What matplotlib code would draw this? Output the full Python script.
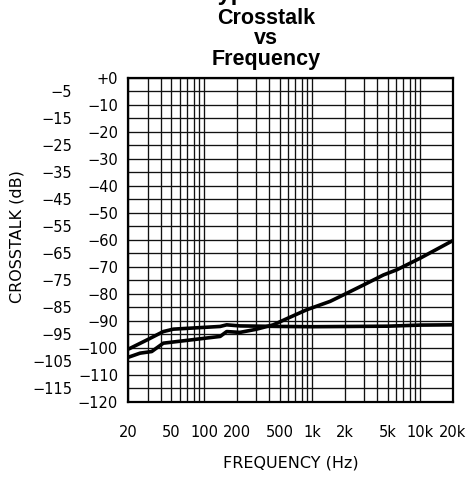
import matplotlib
matplotlib.use('Agg')
import matplotlib.pyplot as plt
from matplotlib.ticker import FixedLocator, NullFormatter

# crosstalk curves, dB vs Hz
freq_flat = [20, 30, 42, 52, 141, 162, 215, 500, 1000, 5000, 10000, 20000]
xtalk_flat = [-100.5, -97.0, -94.0, -93.1, -92.1, -91.5, -91.9, -92.1, -92.2, -92.0, -91.6, -91.5]

freq_rise = [20, 25.6, 32.8, 42, 141, 162, 215, 300, 437, 600, 893, 1470, 1950,
             3000, 4580, 6080, 10000, 20000]
xtalk_rise = [-103.5, -102.0, -101.4, -98.3, -95.8, -94.0, -94.3, -93.2, -91.5, -89.0,
              -85.9, -82.8, -80.4, -76.7, -73.0, -71.1, -66.8, -60.3]

# axis ticks
x_ticks = [20, 50, 100, 200, 500, 1000, 2000, 5000, 10000, 20000]
x_labels = ['20', '50', '100', '200', '500', '1k', '2k', '5k', '10k', '20k']
x_grid = [m * d for d in (10, 100, 1000) for m in range(1, 10)] + [10000, 20000]
x_grid = [v for v in x_grid if 20 <= v <= 20000]
y_even = list(range(0, -121, -10))
y_odd = list(range(-5, -116, -10))
y_even_labels = ['+0'] + ['\u2212%d' % -v for v in y_even[1:]]
y_odd_labels = ['\u2212%d' % -v for v in y_odd]

fig = plt.figure(figsize=(4.71, 4.78), dpi=100)
ax = fig.add_axes([0.2728, 0.1596, 0.6883, 0.6772])

ax.plot(freq_flat, xtalk_flat, color='black', lw=2.6, solid_capstyle='butt')
ax.plot(freq_rise, xtalk_rise, color='black', lw=2.6, solid_capstyle='butt')

ax.set_xscale('log')
ax.set_xlim(20, 20000)
ax.set_ylim(-120, 0)

ax.xaxis.set_major_locator(FixedLocator(x_ticks))
ax.set_xticklabels(x_labels)
ax.xaxis.set_minor_locator(FixedLocator(x_grid))
ax.xaxis.set_minor_formatter(NullFormatter())

ax.yaxis.set_major_locator(FixedLocator(y_even))
ax.set_yticklabels(y_even_labels)
ax.set_yticks(y_odd, y_odd_labels, minor=True)

ax.tick_params(axis='both', which='both', length=0, labelsize=10.5)
ax.tick_params(axis='x', which='major', pad=17)
ax.tick_params(axis='y', which='major', pad=7.5)
ax.tick_params(axis='y', which='minor', pad=40.5)

ax.grid(True, which='both', color='#111111', lw=0.95)
ax.set_axisbelow(True)
for s in ax.spines.values():
    s.set_linewidth(1.6)

# page heading, runs off the top edge
fig.text(205 / 471, 1.0, 'Typical Performance Curves', ha='left', va='baseline',
         fontsize=17, fontweight='bold', family='Liberation Sans')
for txt, ypx in [('Crosstalk', 18), ('vs', 39), ('Frequency', 59)]:
    fig.text(266 / 471, 1 - ypx / 478, txt, ha='center', va='center',
             fontsize=15.5, fontweight='bold', family='Liberation Sans')

fig.text(17.5 / 471, 1 - 237 / 478, 'CROSSTALK (dB)', rotation=90,
         ha='center', va='center', fontsize=11.5)
fig.text(290.6 / 471, 1 - 463 / 478, 'FREQUENCY (Hz)', ha='center', va='center',
         fontsize=11.5)

fig.savefig('out.png', dpi=100)
